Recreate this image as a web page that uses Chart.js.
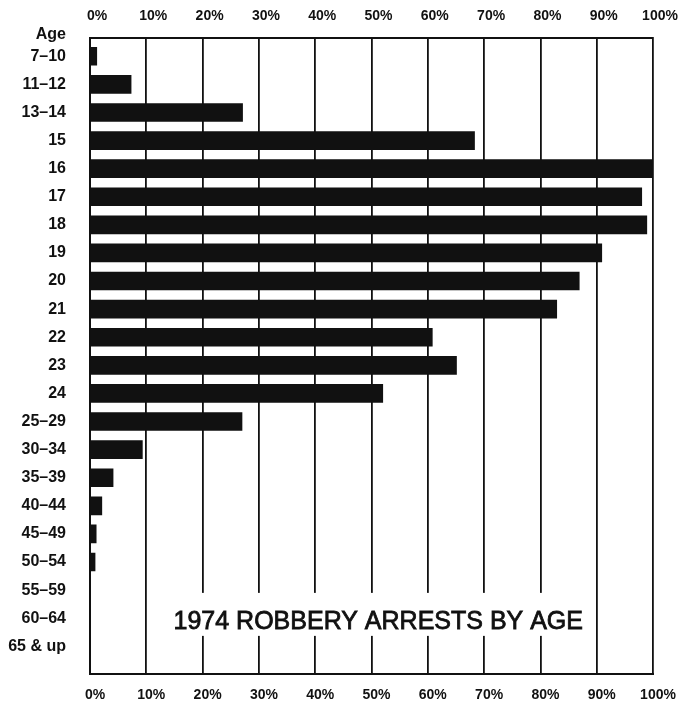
<!DOCTYPE html>
<html>
<head>
<meta charset="utf-8">
<script src="https://cdn.jsdelivr.net/npm/chart.js@4/dist/chart.umd.min.js"></script>
<style>
    html, body { margin: 0; padding: 0; background: #fff; }
</style>
</head>
<body>
<canvas id="cnvArrests" width="691" height="708"></canvas>
<script>
/**
 * DATA
 */
const ageGroups = ["7–10", "11–12", "13–14", "15", "16", "17", "18", "19", "20", "21", "22", "23", "24",
    "25–29", "30–34", "35–39", "40–44", "45–49", "50–54", "55–59", "60–64", "65 & up"];
const arrestPercent = [1.2, 7.3, 27.1, 68.3, 100, 98.0, 98.9, 90.9, 86.9, 82.9, 60.8, 65.1, 52.0,
    27.0, 9.3, 4.1, 2.1, 1.1, 0.9, 0, 0, 0];
const percentTicks = [0, 10, 20, 30, 40, 50, 60, 70, 80, 90, 100];
const axisTitle = "Age";
const chartTitle = "1974 ROBBERY ARRESTS BY AGE";

const fontFamily = '"Liberation Sans", Arial, sans-serif';
const ink = "#111";

/**
 * builds the x axis ticks from percentTicks
 */
function PercentTicks(axis) {
    axis.ticks = percentTicks.map(v => ({ value: v }));
}

/**
 * builds the y axis ticks: the "Age" heading then one per age group
 */
function AgeTicks(axis) {
    axis.ticks = [{ value: -0.78 }].concat(ageGroups.map((g, i) => ({ value: i })));
}

/**
 * draws the title inside the plot on a white box
 */
const titlePlugin = {
    id: 'boxTitle',
    afterDraw(chart) {
        const ctx = chart.ctx;
        const cx = chart.scales.x.getPixelForValue(51.2);
        const base = chart.scales.y.getPixelForValue(20.38);
        ctx.save();
        ctx.font = `25px ${fontFamily}`;
        const w = ctx.measureText(chartTitle).width;
        ctx.fillStyle = "#fff";
        ctx.fillRect(cx - w / 2 - 9, base - 36, w + 18, 43);
        ctx.fillStyle = ink;
        ctx.strokeStyle = ink;
        ctx.lineWidth = 0.8;
        ctx.textAlign = "center";
        ctx.textBaseline = "alphabetic";
        ctx.fillText(chartTitle, cx, base);
        ctx.strokeText(chartTitle, cx, base);
        ctx.restore();
    }
};

const percentLabel = v => v + "%";

let myChart = new Chart(document.querySelector("#cnvArrests"), {
    type: 'bar',
    data: {
        datasets: [{
            data: arrestPercent.map((v, i) => ({ x: v, y: i })),
            backgroundColor: ink,
            borderWidth: 0,
            barThickness: 18,
            xAxisID: 'x',
            yAxisID: 'y'
        }]
    },
    options: {
        indexAxis: 'y',
        responsive: false,
        animation: false,
        devicePixelRatio: 1,
        layout: { padding: { left: 0, top: 0, right: 38, bottom: 0 } },
        plugins: {
            legend: { display: false },
            tooltip: { enabled: false }
        },
        scales: {
            x: {
                type: 'linear',
                position: 'top',
                min: 0,
                max: 100,
                afterBuildTicks: PercentTicks,
                afterFit: s => { s.height = 38; },
                grid: { color: ink, lineWidth: 1.8, drawTicks: false },
                border: { display: true, color: ink, width: 2 },
                ticks: {
                    callback: percentLabel,
                    color: ink,
                    padding: 13,
                    labelOffset: 7,
                    autoSkip: false,
                    maxRotation: 0,
                    font: { family: fontFamily, size: 14, weight: 'bold' }
                }
            },
            x2: {
                type: 'linear',
                position: 'bottom',
                min: 0,
                max: 100,
                afterBuildTicks: PercentTicks,
                afterFit: s => { s.height = 32; },
                grid: { display: false, drawTicks: false },
                border: { display: true, color: ink, width: 2 },
                ticks: {
                    callback: percentLabel,
                    color: ink,
                    padding: 12,
                    labelOffset: 5,
                    autoSkip: false,
                    maxRotation: 0,
                    font: { family: fontFamily, size: 14, weight: 'bold' }
                }
            },
            y: {
                type: 'linear',
                position: 'left',
                reverse: true,
                offset: false,
                min: -0.65,
                max: 22.0,
                afterBuildTicks: AgeTicks,
                afterFit: s => { s.width = 90; },
                grid: { display: false, drawTicks: false, offset: false },
                border: { display: true, color: ink, width: 2 },
                ticks: {
                    callback: (v, i) => i === 0 ? axisTitle : ageGroups[i - 1],
                    color: ink,
                    padding: 24,
                    autoSkip: false,
                    font: { family: fontFamily, size: 16, weight: 'bold' }
                }
            }
        }
    },
    plugins: [titlePlugin]
});
</script>
</body>
</html>
